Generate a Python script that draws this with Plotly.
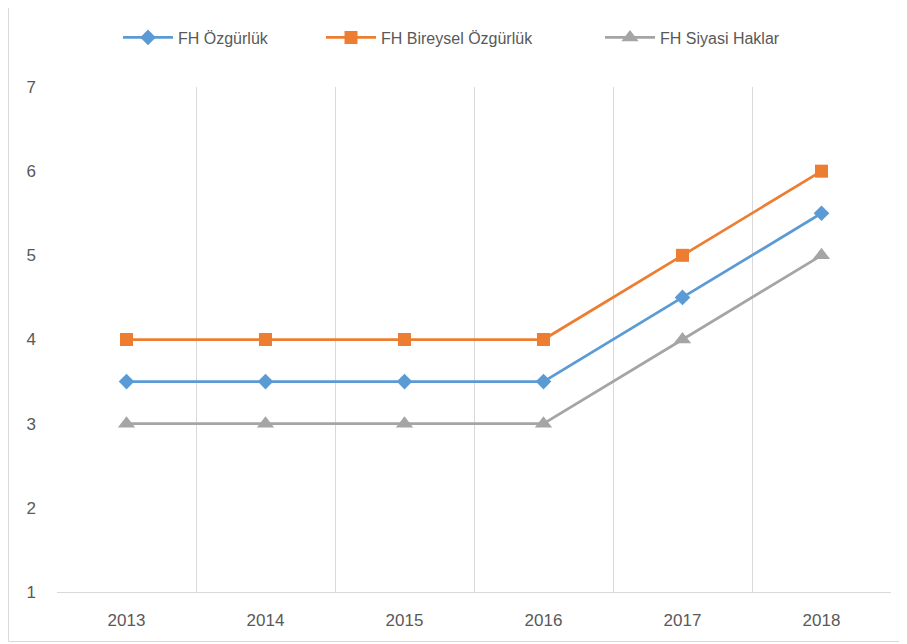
import plotly.graph_objects as go

years = ["2013", "2014", "2015", "2016", "2017", "2018"]
ozgurluk = [3.5, 3.5, 3.5, 3.5, 4.5, 5.5]
bireysel = [4, 4, 4, 4, 5, 6]
siyasi = [3, 3, 3, 3, 4, 5]
y_ticks = [1, 2, 3, 4, 5, 6, 7]

# page body has an 8px margin in the browser
OFF = 8
W, H = 907 - OFF, 644 - OFF
L, R, T, B = 57 - OFF, 16, 87 - OFF, 52
PW, PH = W - L - R, H - T - B

def px_x(x):  # absolute page pixel -> paper x
    return (x - 57) / PW

def px_y(y):  # absolute page pixel -> paper y
    return (592 - y) / PH

xi = list(range(len(years)))
fig = go.Figure()
series = [
    ("FH Özgürlük", ozgurluk, "#5B9BD5", "diamond", 12, "legend", 118),
    ("FH Bireysel Özgürlük", bireysel, "#ED7D31", "square", 13, "legend2", 321),
    ("FH Siyasi Haklar", siyasi, "#A5A5A5", "triangle-up", 15, "legend3", 600),
]
lfont = dict(family="Liberation Sans, Arial, sans-serif", size=16, color="#595959")
layout_legends = {}
for name, vals, col, sym, sz, lg, lx in series:
    fig.add_trace(go.Scatter(
        x=xi, y=vals, name=name, mode="lines+markers",
        line=dict(color=col, width=2.75),
        marker=dict(symbol=sym, size=sz, color=col),
        legend=lg,
    ))
    layout_legends[lg] = dict(x=px_x(lx), xanchor="left", y=px_y(37.5), yanchor="middle",
                              font=lfont, itemwidth=50, bgcolor="rgba(0,0,0,0)",
                              borderwidth=0)

font = dict(family="Liberation Sans, Arial, sans-serif", size=16, color="#595959")
fig.update_layout(
    width=W, height=H,
    margin=dict(l=L, r=R, t=T, b=B),
    paper_bgcolor="white", plot_bgcolor="white",
    font=font,
    showlegend=True,
    **layout_legends,
    xaxis=dict(
        range=[-0.5, 5.5], tickvals=xi, ticktext=years, showgrid=False,
        zeroline=False, showline=True, linecolor="#D9D9D9", linewidth=1,
        ticks="", ticklabelstandoff=13,
        minor=dict(tickvals=[i - 0.5 for i in range(len(years) + 1)], showgrid=True,
                   gridcolor="#D9D9D9", gridwidth=1),
        tickfont=dict(size=17, color="#595959"),
    ),
    yaxis=dict(
        range=[1, 7], tickvals=y_ticks, showgrid=False, zeroline=False,
        showline=False, ticks="", ticklabelstandoff=20,
        tickfont=dict(size=17, color="#595959"),
    ),
    shapes=[dict(type="rect", xref="paper", yref="paper",
                 x0=px_x(8.5), x1=px_x(915), y0=px_y(641.5), y1=px_y(2.5),
                 line=dict(color="#D9D9D9", width=1), fillcolor="rgba(0,0,0,0)", layer="below")],
)

fig.write_html("out.html")
